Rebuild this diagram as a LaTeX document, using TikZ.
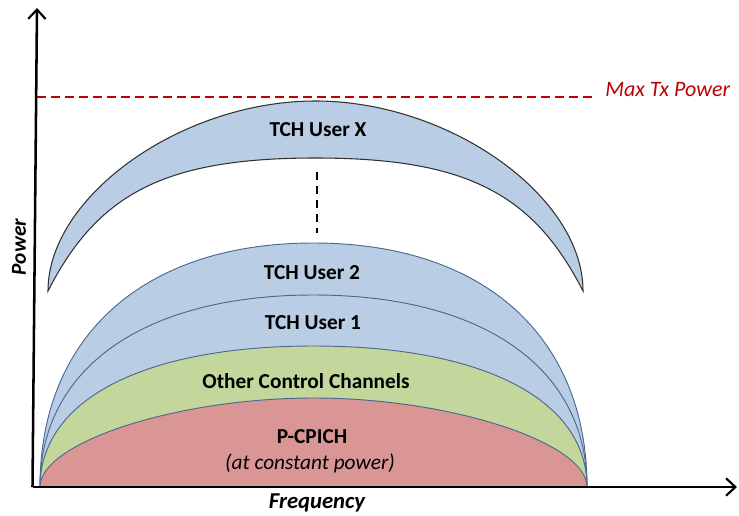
\documentclass[tikz,border=0pt]{standalone}
\usepackage{fontspec}
\setmainfont{Carlito}
\usetikzlibrary{arrows.meta}
\definecolor{bluefill}{HTML}{B9CDE5}
\definecolor{greenfill}{HTML}{C3D69B}
\definecolor{redfill}{HTML}{D99694}
\definecolor{domeline}{HTML}{4A6890}
\definecolor{maxred}{HTML}{C00000}
\tikzset{
  axis/.style={line width=1.9pt, draw=black, -{Straight Barb[length=7pt,width=13pt,line width=1.6pt]}},
  domeshape/.style={draw=domeline, line width=0.7pt},
  crescent/.style={draw=black!80, line width=0.8pt, fill=bluefill},
  maxline/.style={draw=maxred, line width=1.9pt, dash pattern=on 7pt off 3.5pt},
  gapline/.style={draw=black, line width=1.5pt, dash pattern=on 6pt off 4.5pt},
  lab/.style={font=\fontsize{16}{18}\selectfont\bfseries, text=black, inner sep=0pt},
  sublab/.style={font=\fontsize{16}{18}\selectfont\itshape, text=black, inner sep=0pt},
  axlab/.style={font=\fontsize{17}{19}\selectfont\bfseries\itshape, text=black, inner sep=0pt},
}
\newcommand{\domepath}[3]{% #1 = height, #2 = k side, #3 = k top
  (40,487) .. controls (40,{487-#2*#1}) and ({313.5-#3*273.5},{487-#1}) .. (313.5,{487-#1})
  .. controls ({313.5+#3*273.5},{487-#1}) and (587,{487-#2*#1}) .. (587,487) -- cycle}
\begin{document}
\begin{tikzpicture}[x=0.75pt,y=-0.75pt]
\useasboundingbox (0,0) rectangle (739,515);
% domes
\fill[bluefill] \domepath{244}{0.62}{0.62};
\draw[domeshape] \domepath{244}{0.62}{0.62};
\draw[domeshape] \domepath{192}{0.62}{0.62};
\filldraw[domeshape, fill=greenfill] \domepath{141}{0.62}{0.62};
\filldraw[domeshape, fill=redfill] \domepath{89}{0.5}{0.5};
% crescent TCH User X
\path[crescent] (48,291) .. controls (48,196) and (181.8,101) .. (315.5,101)
  .. controls (449.2,101) and (583,196) .. (583,291)
  .. controls (533,193) and (465.5,158) .. (315.5,158)
  .. controls (165.5,158) and (98,193) .. (48,291) -- cycle;
% gap indicator
\coordinate (g1) at (317,172);
\coordinate (g2) at (317,233);
\draw[gapline] (g1) -- (g2);
% max tx power line
\coordinate (m1) at (37,97);
\coordinate (m2) at (597,97);
\draw[maxline] (m1) -- (m2);
\node[anchor=west, font=\fontsize{16.5}{18}\selectfont\itshape, text=maxred, inner sep=0pt] (maxtx) at (605,90) {Max Tx Power};
% axes
\coordinate (origin) at (32.5,487);
\coordinate (ytip) at (37,8);
\coordinate (xtip) at (737,487);
\draw[axis] (origin) -- (ytip);
\draw[axis] (origin) -- (xtip);
% labels
\node[lab] (tchx) at (318,130) {TCH User X};
\node[lab] (tch2) at (312,273) {TCH User 2};
\node[lab] (tch1) at (313,323) {TCH User 1};
\node[lab] (occ) at (306,381) {Other Control Channels};
\node[lab] (pcpich) at (312,437) {P-CPICH};
\node[sublab] (const) at (310,463) {(at constant power)};
\node[axlab, font=\fontsize{16}{18}\selectfont\bfseries\itshape, rotate=90] (power) at (19,247) {Power};
\node[axlab] (freq) at (317,503) {Frequency};
\end{tikzpicture}
\end{document}
